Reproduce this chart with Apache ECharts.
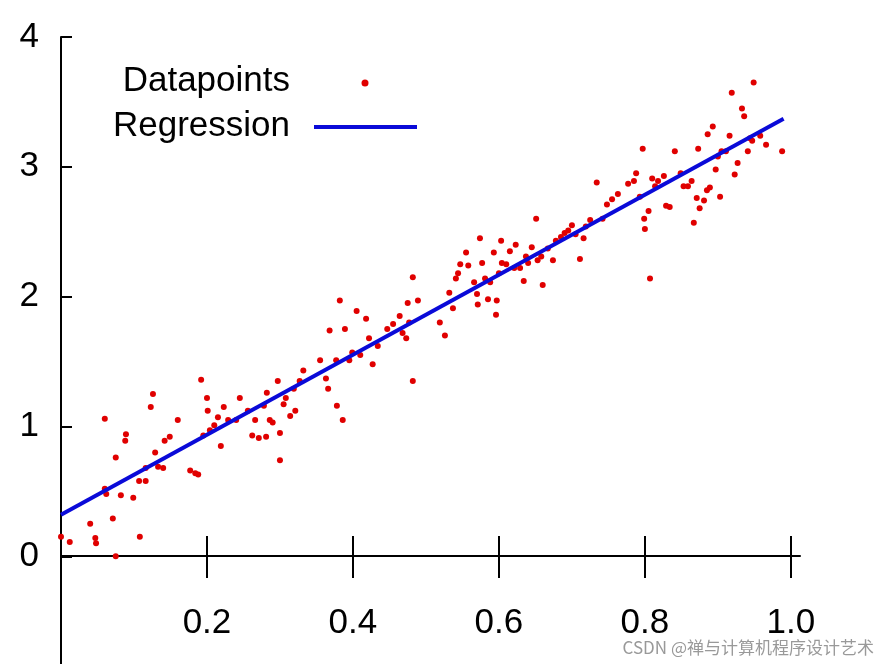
<!DOCTYPE html>
<html>
<head>
<meta charset="UTF-8">
<title>Regression</title>
<script src="https://cdn.jsdelivr.net/npm/echarts@6/dist/echarts.min.js"></script>
</head>
<body style="margin:0">
<div id="main" style="width:888px;height:664px;"></div>
<script>
// data points
var xs = [0,.012,.04,.047,.048,.06,.06,.062,.071,.075,.075,.082,.088,.089,.099,.107,.108,.116,.116,.123,.126,.129,.133,.14,.142,.149,.16,.177,.184,.188,.192,.195,.2,.201,.204,.21,.215,.219,.223,.229,.24,.245,.256,.262,.266,.271,.278,.281,.282,.286,.29,.297,.3,.3,.305,.308,.314,.319,.321,.327,.332,.355,.363,.366,.368,.377,.378,.382,.386,.389,.395,.399,.405,.41,.418,.422,.427,.434,.447,.455,.464,.468,.473,.475,.477,.482,.482,.489,.519,.526,.532,.537,.541,.544,.547,.555,.558,.566,.57,.571,.574,.577,.581,.585,.588,.593,.596,.597,.6,.603,.604,.61,.615,.621,.623,.629,.634,.637,.64,.645,.651,.653,.658,.66,.667,.674,.678,.685,.69,.695,.7,.705,.711,.716,.719,.725,.734,.742,.748,.755,.763,.777,.785,.788,.793,.797,.799,.8,.805,.807,.81,.814,.818,.826,.829,.834,.841,.849,.853,.859,.864,.867,.871,.873,.875,.881,.885,.886,.889,.893,.897,.9,.903,.905,.911,.916,.919,.923,.927,.933,.936,.941,.944,.947,.949,.958,.966,.988];
var ys = [.15,.11,.25,.14,.10,1.06,.52,.48,.29,0,.76,.47,.89,.94,.45,.58,.15,.68,.58,1.15,1.25,.8,.69,.68,.89,.92,1.05,.66,.64,.63,1.36,.93,1.22,1.12,.97,1.01,1.07,.85,1.15,1.05,1.05,1.22,1.12,.93,1.05,.91,1.16,.92,1.26,1.05,1.03,1.35,.95,.74,1.17,1.22,1.08,1.29,1.12,1.35,1.43,1.51,1.37,1.29,1.74,1.51,1.16,1.97,1.05,1.75,1.51,1.57,1.89,1.55,1.83,1.68,1.48,1.62,1.75,1.79,1.85,1.72,1.68,1.95,1.8,1.35,2.15,1.97,1.8,1.7,2.03,1.91,2.14,2.18,2.25,2.34,2.24,2.11,2.02,1.94,2.45,2.26,2.14,1.98,2.11,2.34,1.86,1.97,2.18,2.43,2.26,2.25,2.35,2.22,2.4,2.22,2.12,2.31,2.26,2.38,2.6,2.28,2.31,2.09,2.37,2.28,2.43,2.46,2.49,2.51,2.55,2.48,2.29,2.45,2.54,2.59,2.88,2.6,2.71,2.75,2.79,2.87,2.89,2.95,2.77,3.14,2.6,2.52,2.66,2.14,2.91,2.85,2.89,2.93,2.7,2.69,3.12,2.95,2.85,2.85,2.89,2.57,2.76,3.14,2.68,2.74,2.82,3.25,2.84,3.31,2.98,3.08,2.77,3.12,3.12,3.24,3.57,2.94,3.03,3.45,3.39,3.12,3.22,3.2,3.65,3.24,3.17,3.12];
var fitX = [0, 0.99];
var fitY = [0.32, 3.37];
var xTicks = [0.2, 0.4, 0.6, 0.8, 1.0];
var yTicks = [0, 1, 2, 3, 4];

var points = xs.map(function (x, i) { return [x, ys[i]]; });
var fit = fitX.map(function (x, i) { return [x, fitY[i]]; });

var font = 'Liberation Sans, Arial, sans-serif';
var tickStyle = { color: '#000', width: 2 };

var myChart = echarts.init(document.getElementById('main'));
myChart.setOption({
  backgroundColor: '#fff',
  animation: false,
  grid: { left: 61, right: 88, top: 37, bottom: 0, containLabel: false, outerBoundsMode: 'none' },
  xAxis: [{
    type: 'value', min: 0, max: 1.0125, position: 'bottom', offset: -108,
    axisLine: { onZero: false, lineStyle: { color: '#000', width: 2 } },
    axisTick: { show: true, length: 22, customValues: xTicks, lineStyle: tickStyle },
    splitLine: { show: false },
    axisLabel: {
      fontSize: 35, color: '#000', fontFamily: font, margin: 50, customValues: xTicks,
      formatter: function (v) { return v.toFixed(1); }
    }
  }, {
    type: 'value', min: 0, max: 1.0125, position: 'bottom', offset: -108,
    axisLine: { show: false, onZero: false },
    axisTick: { show: true, inside: true, length: 20, customValues: xTicks, lineStyle: tickStyle },
    splitLine: { show: false }, axisLabel: { show: false }
  }],
  yAxis: [{
    type: 'value', min: -0.83, max: 4,
    axisLine: { onZero: false, lineStyle: { color: '#000', width: 2 } },
    axisTick: { show: true, inside: true, length: 11, customValues: yTicks, lineStyle: tickStyle },
    splitLine: { show: false },
    axisLabel: {
      fontSize: 35, color: '#000', fontFamily: font, margin: 22, customValues: yTicks
    }
  }],
  series: [{
    name: 'Datapoints', type: 'scatter', data: points,
    symbolSize: 6, itemStyle: { color: '#e00000', opacity: 1 }
  }, {
    name: 'Regression', type: 'line', data: fit, symbol: 'none',
    lineStyle: { color: '#0a0ad8', width: 4 }
  }],
  graphic: [
    { type: 'text', right: 598, top: 64, style: { text: 'Datapoints', font: '35px ' + font, fill: '#000' } },
    { type: 'circle', shape: { cx: 365, cy: 83, r: 3.5 }, style: { fill: '#e00000' } },
    { type: 'text', right: 598, top: 109, style: { text: 'Regression', font: '35px ' + font, fill: '#000' } },
    { type: 'line', shape: { x1: 314, y1: 127, x2: 417, y2: 127 }, style: { stroke: '#0a0ad8', lineWidth: 4 } },
    { type: 'text', right: 14, bottom: 8, style: { text: 'CSDN @禅与计算机程序设计艺术', font: '17px Noto Sans CJK SC', fill: '#999' } }
  ]
});
</script>
</body>
</html>
